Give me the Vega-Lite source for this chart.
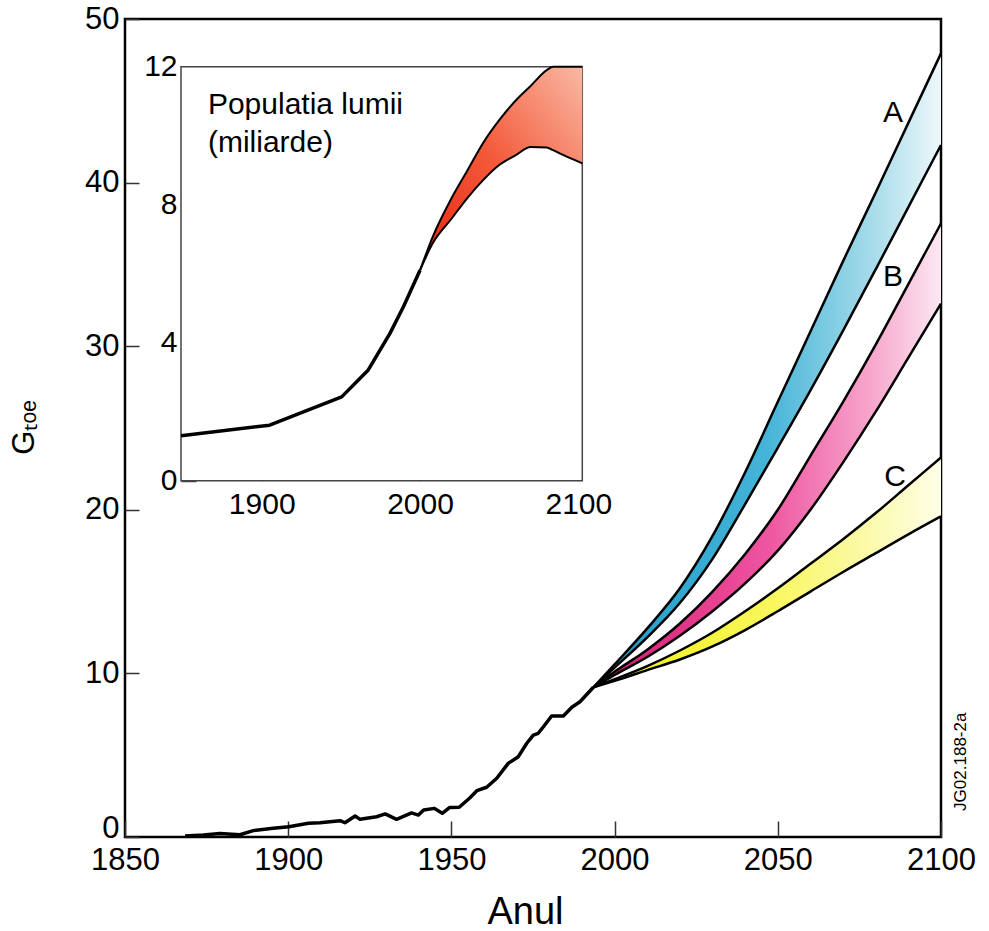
{
  "$schema": "https://vega.github.io/schema/vega-lite/v6.json",
  "width": 816,
  "height": 818,
  "autosize": {"type": "none"},
  "padding": {"left": 125, "top": 19, "right": 48, "bottom": 94},
  "background": "white",
  "config": {
    "view": {"stroke": "black", "strokeWidth": 2.5},
    "font": "Liberation Sans",
    "axis": {"grid": false, "labelFont": "Liberation Sans", "titleFont": "Liberation Sans", "labelColor": "black", "titleColor": "black", "titleFontWeight": "normal", "labelFlush": false, "labelOverlap": false, "zindex": 1}
  },
  "datasets": {
    "hist": [
      {"year": 1868.4, "value": 0.06}, {"year": 1874, "value": 0.12}, {"year": 1879.1, "value": 0.22}, {"year": 1885.2, "value": 0.14},
      {"year": 1889.3, "value": 0.39}, {"year": 1895.4, "value": 0.53}, {"year": 1900.2, "value": 0.63}, {"year": 1906.2, "value": 0.84},
      {"year": 1909.7, "value": 0.87}, {"year": 1915.9, "value": 1.0}, {"year": 1917.4, "value": 0.87}, {"year": 1920.5, "value": 1.28},
      {"year": 1922, "value": 1.08}, {"year": 1927.1, "value": 1.24}, {"year": 1929.7, "value": 1.41}, {"year": 1933.2, "value": 1.08},
      {"year": 1937.8, "value": 1.47}, {"year": 1939.9, "value": 1.34}, {"year": 1941.5, "value": 1.65}, {"year": 1944.8, "value": 1.75},
      {"year": 1947.2, "value": 1.45}, {"year": 1949.4, "value": 1.8}, {"year": 1952.4, "value": 1.82}, {"year": 1955.7, "value": 2.4},
      {"year": 1957.8, "value": 2.83}, {"year": 1960.8, "value": 3.04}, {"year": 1963.9, "value": 3.59}, {"year": 1967.4, "value": 4.5},
      {"year": 1970.5, "value": 4.91}, {"year": 1973.1, "value": 5.73}, {"year": 1975.1, "value": 6.23}, {"year": 1976.6, "value": 6.34},
      {"year": 1978.2, "value": 6.74}, {"year": 1980.7, "value": 7.4}, {"year": 1984.3, "value": 7.4}, {"year": 1986.9, "value": 7.93},
      {"year": 1989.4, "value": 8.27}, {"year": 1993.5, "value": 9.15}
    ],
    "bands": [
      {"band": "A", "year": 1993.5, "lo": 9.15, "hi": 9.15}, {"band": "A", "year": 2000, "lo": 10.35, "hi": 10.55},
      {"band": "A", "year": 2010, "lo": 12.2, "hi": 12.75}, {"band": "A", "year": 2020, "lo": 14.3, "hi": 15.2},
      {"band": "A", "year": 2030, "lo": 17.0, "hi": 18.4}, {"band": "A", "year": 2040, "lo": 20.35, "hi": 22.3},
      {"band": "A", "year": 2050, "lo": 23.8, "hi": 26.6}, {"band": "A", "year": 2060, "lo": 27.3, "hi": 30.9},
      {"band": "A", "year": 2070, "lo": 30.95, "hi": 35.2}, {"band": "A", "year": 2080, "lo": 34.7, "hi": 39.4},
      {"band": "A", "year": 2090, "lo": 38.5, "hi": 43.65}, {"band": "A", "year": 2100, "lo": 42.3, "hi": 47.9},
      {"band": "B", "year": 1993.5, "lo": 9.15, "hi": 9.15}, {"band": "B", "year": 2000, "lo": 9.9, "hi": 10.1},
      {"band": "B", "year": 2010, "lo": 11.0, "hi": 11.45}, {"band": "B", "year": 2020, "lo": 12.3, "hi": 13.05},
      {"band": "B", "year": 2030, "lo": 13.8, "hi": 15.0}, {"band": "B", "year": 2040, "lo": 15.5, "hi": 17.3},
      {"band": "B", "year": 2050, "lo": 17.5, "hi": 20.0}, {"band": "B", "year": 2060, "lo": 20.0, "hi": 23.3},
      {"band": "B", "year": 2070, "lo": 22.9, "hi": 26.6}, {"band": "B", "year": 2080, "lo": 26.0, "hi": 30.1},
      {"band": "B", "year": 2090, "lo": 29.3, "hi": 33.8}, {"band": "B", "year": 2100, "lo": 32.6, "hi": 37.5},
      {"band": "C", "year": 1993.5, "lo": 9.15, "hi": 9.15}, {"band": "C", "year": 2000, "lo": 9.55, "hi": 9.65},
      {"band": "C", "year": 2010, "lo": 10.2, "hi": 10.45}, {"band": "C", "year": 2020, "lo": 10.85, "hi": 11.4},
      {"band": "C", "year": 2030, "lo": 11.65, "hi": 12.5}, {"band": "C", "year": 2040, "lo": 12.65, "hi": 13.8},
      {"band": "C", "year": 2050, "lo": 13.8, "hi": 15.2}, {"band": "C", "year": 2060, "lo": 15.0, "hi": 16.7},
      {"band": "C", "year": 2070, "lo": 16.2, "hi": 18.2}, {"band": "C", "year": 2080, "lo": 17.35, "hi": 19.8},
      {"band": "C", "year": 2090, "lo": 18.5, "hi": 21.5}, {"band": "C", "year": 2100, "lo": 19.6, "hi": 23.2}
    ],
    "labels": [
      {"year": 2085.3, "value": 44.25, "label": "A"},
      {"year": 2085.3, "value": 34.2, "label": "B"},
      {"year": 2085.9, "value": 22.0, "label": "C"}
    ],
    "pop": [
      {"year": 1849, "value": 1.3}, {"year": 1905, "value": 1.61}, {"year": 1950.5, "value": 2.43},
      {"year": 1967.3, "value": 3.21}, {"year": 1981, "value": 4.27}, {"year": 1989.5, "value": 5.04}, {"year": 2000, "value": 6.1}
    ],
    "popband": [
      {"year": 2000, "lo": 6.1, "hi": 6.1}, {"year": 2008, "lo": 6.88, "hi": 7.07}, {"year": 2020, "lo": 7.6, "hi": 8.2},
      {"year": 2030, "lo": 8.2, "hi": 9.0}, {"year": 2040, "lo": 8.72, "hi": 9.8}, {"year": 2050, "lo": 9.15, "hi": 10.45},
      {"year": 2060, "lo": 9.42, "hi": 11.0}, {"year": 2070, "lo": 9.67, "hi": 11.45}, {"year": 2080, "lo": 9.66, "hi": 11.9},
      {"year": 2084, "lo": 9.58, "hi": 12.0}, {"year": 2090, "lo": 9.45, "hi": 12.0}, {"year": 2102.5, "lo": 9.2, "hi": 12.0}
    ]
  },
  "layer": [
    {
      "layer": [
        {
          "data": {"name": "bands"},
          "transform": [{"filter": "datum.band === 'A'"}],
          "mark": {"type": "area", "interpolate": "monotone", "fill": {"gradient": "linear", "x1": 0, "y1": 0, "x2": 1, "y2": 0, "stops": [{"offset": 0, "color": "#1e9bc8"}, {"offset": 0.5, "color": "#45b4d8"}, {"offset": 0.8, "color": "#a6dbea"}, {"offset": 1, "color": "#eef8fb"}]}},
          "encoding": {
            "x": {"field": "year", "type": "quantitative", "title": "Anul", "scale": {"domain": [1850, 2100], "nice": false, "zero": false},
                  "axis": {"values": [1850, 1900, 1950, 2000, 2050, 2100], "format": "d", "domain": false, "tickSize": -16, "tickWidth": 1.5, "tickColor": "#333", "labelFontSize": 31, "labelPadding": 24, "titleFontSize": 38, "titleX": 400, "titleY": 86, "titleBaseline": "alphabetic", "titleAlign": "center"}},
            "y": {"field": "lo", "type": "quantitative", "title": "Gₜₒₑ", "scale": {"domain": [0, 50], "nice": false},
                  "axis": {"values": [0, 10, 20, 30, 40, 50], "domain": false, "tickSize": -14, "tickWidth": 1.5, "tickColor": "#333", "labelFontSize": 31, "labelPadding": 20, "labelOffset": {"condition": {"test": "datum.value === 0", "value": -9}, "value": 0}, "titleFontSize": 31, "titleX": -92, "titleY": 408, "titleAngle": 270, "titleBaseline": "alphabetic", "titleAlign": "center"}},
            "y2": {"field": "hi"}
          }
        },
        {
          "data": {"name": "bands"},
          "transform": [{"filter": "datum.band === 'B'"}],
          "mark": {"type": "area", "interpolate": "monotone", "fill": {"gradient": "linear", "x1": 0, "y1": 0, "x2": 1, "y2": 0, "stops": [{"offset": 0, "color": "#d6156f"}, {"offset": 0.5, "color": "#ee55a0"}, {"offset": 0.8, "color": "#f7a6cc"}, {"offset": 1, "color": "#fce8f2"}]}},
          "encoding": {
            "x": {"field": "year", "type": "quantitative", "title": "Anul"},
            "y": {"field": "lo", "type": "quantitative", "title": "Gₜₒₑ"},
            "y2": {"field": "hi"}
          }
        },
        {
          "data": {"name": "bands"},
          "transform": [{"filter": "datum.band === 'C'"}],
          "mark": {"type": "area", "interpolate": "monotone", "fill": {"gradient": "linear", "x1": 0, "y1": 0, "x2": 1, "y2": 0, "stops": [{"offset": 0, "color": "#f0f010"}, {"offset": 0.5, "color": "#f9f75a"}, {"offset": 0.8, "color": "#fbfaae"}, {"offset": 1, "color": "#fefee8"}]}},
          "encoding": {
            "x": {"field": "year", "type": "quantitative", "title": "Anul"},
            "y": {"field": "lo", "type": "quantitative", "title": "Gₜₒₑ"},
            "y2": {"field": "hi"}
          }
        },
        {
          "data": {"name": "bands"},
          "transform": [{"fold": ["lo", "hi"], "as": ["edge", "v"]}],
          "mark": {"type": "line", "interpolate": "monotone", "color": "black", "strokeWidth": 2.5, "strokeJoin": "round"},
          "encoding": {
            "x": {"field": "year", "type": "quantitative", "title": "Anul"},
            "y": {"field": "v", "type": "quantitative", "title": "Gₜₒₑ"},
            "detail": [{"field": "band"}, {"field": "edge"}]
          }
        },
        {
          "data": {"name": "hist"},
          "mark": {"type": "line", "color": "black", "strokeWidth": 3.5, "strokeJoin": "round"},
          "encoding": {
            "x": {"field": "year", "type": "quantitative", "title": "Anul"},
            "y": {"field": "value", "type": "quantitative", "title": "Gₜₒₑ"}
          }
        },
        {
          "data": {"name": "labels"},
          "mark": {"type": "text", "fontSize": 30, "font": "Liberation Sans", "color": "black", "align": "center", "baseline": "middle"},
          "encoding": {
            "x": {"field": "year", "type": "quantitative", "title": "Anul"},
            "y": {"field": "value", "type": "quantitative", "title": "Gₜₒₑ"},
            "text": {"field": "label"}
          }
        },
        {
          "data": {"values": [{"year": 2106, "value": 4.6, "label": "JG02.188-2a"}]},
          "mark": {"type": "text", "fontSize": 17, "font": "Liberation Sans", "color": "black", "angle": 270, "align": "center", "baseline": "middle"},
          "encoding": {
            "x": {"field": "year", "type": "quantitative", "title": "Anul"},
            "y": {"field": "value", "type": "quantitative", "title": "Gₜₒₑ"},
            "text": {"field": "label"}
          }
        }
      ]
    },
    {
      "layer": [
        {
          "data": {"values": [{"x": 1849, "x2": 2102.5, "y": 0, "y2": 12}]},
          "mark": {"type": "rect", "fill": "white", "stroke": "#444", "strokeWidth": 1.5},
          "encoding": {
            "x": {"field": "x", "type": "quantitative", "title": null, "scale": {"domain": [1849, 2102.5], "range": [56, 457.3], "nice": false, "zero": false},
                  "axis": {"orient": "bottom", "offset": -356.3, "values": [1900, 2000, 2100], "format": "d", "domain": false, "tickSize": -15, "tickWidth": 1.5, "tickColor": "#444", "labelFontSize": 30, "labelPadding": 24}},
            "x2": {"field": "x2"},
            "y": {"field": "y", "type": "quantitative", "title": null, "scale": {"domain": [0, 12], "range": [461.7, 47.7], "nice": false},
                  "axis": {"orient": "left", "offset": -56, "values": [0, 4, 8, 12], "format": "d", "domain": false, "tickSize": -15, "tickWidth": 1.5, "tickColor": "#444", "labelFontSize": 30, "labelPadding": 19}},
            "y2": {"field": "y2"}
          }
        },
        {
          "data": {"name": "popband"},
          "mark": {"type": "area", "interpolate": "monotone", "fill": {"gradient": "linear", "x1": 0, "y1": 1, "x2": 1, "y2": 0, "stops": [{"offset": 0, "color": "#ea2410"}, {"offset": 0.5, "color": "#f35a3a"}, {"offset": 1, "color": "#f9b9a4"}]}},
          "encoding": {
            "x": {"field": "year", "type": "quantitative", "title": null},
            "y": {"field": "lo", "type": "quantitative", "title": null},
            "y2": {"field": "hi"}
          }
        },
        {
          "data": {"name": "popband"},
          "transform": [{"fold": ["lo", "hi"], "as": ["edge", "v"]}],
          "mark": {"type": "line", "interpolate": "monotone", "color": "black", "strokeWidth": 2, "strokeJoin": "round"},
          "encoding": {
            "x": {"field": "year", "type": "quantitative", "title": null},
            "y": {"field": "v", "type": "quantitative", "title": null},
            "detail": {"field": "edge"}
          }
        },
        {
          "data": {"name": "pop"},
          "mark": {"type": "line", "color": "black", "strokeWidth": 3.5, "strokeJoin": "round"},
          "encoding": {
            "x": {"field": "year", "type": "quantitative", "title": null},
            "y": {"field": "value", "type": "quantitative", "title": null}
          }
        },
        {
          "data": {"values": [{"year": 1866, "value": 10.63, "label": "Populatia lumii\n(miliarde)"}]},
          "mark": {"type": "text", "fontSize": 30, "font": "Liberation Sans", "color": "black", "align": "left", "baseline": "alphabetic", "lineBreak": "\n", "lineHeight": 38},
          "encoding": {
            "x": {"field": "year", "type": "quantitative", "title": null},
            "y": {"field": "value", "type": "quantitative", "title": null},
            "text": {"field": "label"}
          }
        }
      ]
    }
  ],
  "resolve": {"scale": {"x": "independent", "y": "independent"}, "axis": {"x": "independent", "y": "independent"}}
}
